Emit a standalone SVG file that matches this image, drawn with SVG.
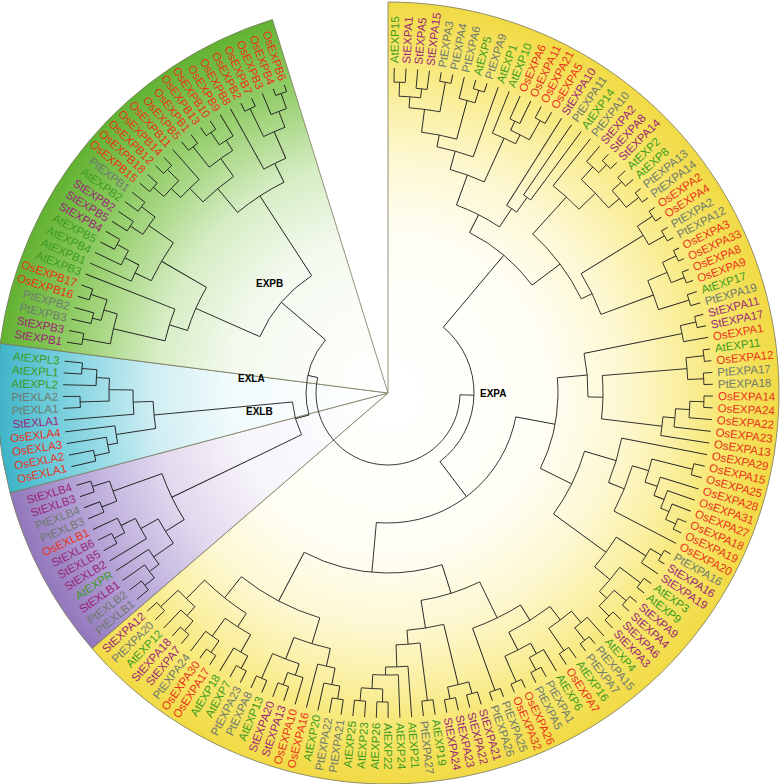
<svg xmlns="http://www.w3.org/2000/svg" width="784" height="784" viewBox="0 0 784 784">
<defs>
<radialGradient id="gY" gradientUnits="userSpaceOnUse" cx="0" cy="0" r="391"><stop offset="0" stop-color="#ffffff"/><stop offset="0.4" stop-color="#fffef5"/><stop offset="0.6" stop-color="#fdf8d2"/><stop offset="0.75" stop-color="#faefa0"/><stop offset="0.87" stop-color="#f6e66c"/><stop offset="1" stop-color="#f1da44"/></radialGradient>
<radialGradient id="gG" gradientUnits="userSpaceOnUse" cx="0" cy="0" r="391"><stop offset="0" stop-color="#ffffff"/><stop offset="0.4" stop-color="#f4faef"/><stop offset="0.6" stop-color="#d6edc4"/><stop offset="0.75" stop-color="#a8d784"/><stop offset="0.87" stop-color="#84c656"/><stop offset="1" stop-color="#62b232"/></radialGradient>
<radialGradient id="gC" gradientUnits="userSpaceOnUse" cx="0" cy="0" r="391"><stop offset="0" stop-color="#ffffff"/><stop offset="0.4" stop-color="#f2fbfc"/><stop offset="0.6" stop-color="#d0eef3"/><stop offset="0.75" stop-color="#98dbe6"/><stop offset="0.87" stop-color="#6ccbd9"/><stop offset="1" stop-color="#3fb3c8"/></radialGradient>
<radialGradient id="gP" gradientUnits="userSpaceOnUse" cx="0" cy="0" r="391"><stop offset="0" stop-color="#ffffff"/><stop offset="0.4" stop-color="#f7f4fa"/><stop offset="0.6" stop-color="#e2d9ee"/><stop offset="0.75" stop-color="#c6b8e0"/><stop offset="0.87" stop-color="#ac98d0"/><stop offset="1" stop-color="#9278bc"/></radialGradient>
</defs>
<style>
.w{stroke:#77775a;stroke-width:0.8}
.t path,.t circle{fill:none;stroke:#222;stroke-width:0.9}
text{font-family:"Liberation Sans",Arial,sans-serif;font-size:11.5px}
.f text{text-anchor:end}
.os{fill:#e8331c}.st{fill:#9a2678}.at{fill:#3d9b1f}.pt{fill:#6f7a6f}
.cl{font-weight:bold;font-size:10px;fill:#000}
</style>
<rect width="784" height="784" fill="#fff"/>
<g transform="translate(388,393)">
<g id="wedges">
<path class="w" fill="url(#gY)" d="M0 0 L0 -391 A391 391 0 1 1 -296 255.5 Z"/>
<path class="w" fill="url(#gP)" d="M0 0 L-296 255.5 A391 391 0 0 1 -378 99.9 Z"/>
<path class="w" fill="url(#gC)" d="M0 0 L-378 99.9 A391 391 0 0 1 -387.8 -49.7 Z"/>
<path class="w" fill="url(#gG)" d="M0 0 L-387.8 -49.7 A391 391 0 0 1 -115.6 -373.5 Z"/>
</g>
<g id="connectors" class="t">
<g id="tree-EXPA" transform="rotate(-88.9)">
<path transform="rotate(0)" d="M311 0H325"/><path transform="rotate(2.08)" d="M311 0H325"/><path transform="rotate(4.16)" d="M306 0H325"/><path transform="rotate(6.24)" d="M306 0H325"/><path transform="rotate(8.32)" d="M316 0H325"/><path transform="rotate(10.4)" d="M316 0H325"/><path transform="rotate(12.48)" d="M303 0H325"/><path transform="rotate(14.56)" d="M316 0H325"/><path transform="rotate(16.64)" d="M316 0H325"/><path transform="rotate(18.72)" d="M251 0H325"/>
<path transform="rotate(20.8)" d="M280 0H325"/><path transform="rotate(22.88)" d="M300 0H325"/><path transform="rotate(24.96)" d="M300 0H325"/><path transform="rotate(27.04)" d="M312 0H325"/><path transform="rotate(29.12)" d="M312 0H325"/><path transform="rotate(31.2)" d="M222 0H325"/><path transform="rotate(33.28)" d="M240 0H325"/><path transform="rotate(35.36)" d="M240 0H325"/><path transform="rotate(37.44)" d="M265 0H325"/><path transform="rotate(39.52)" d="M305 0H325"/>
<path transform="rotate(41.6)" d="M316 0H325"/><path transform="rotate(43.68)" d="M316 0H325"/><path transform="rotate(45.76)" d="M315 0H325"/><path transform="rotate(47.84)" d="M315 0H325"/><path transform="rotate(49.92)" d="M318 0H325"/><path transform="rotate(52)" d="M318 0H325"/><path transform="rotate(54.08)" d="M318 0H325"/><path transform="rotate(56.16)" d="M318 0H325"/><path transform="rotate(58.24)" d="M318 0H325"/><path transform="rotate(60.32)" d="M318 0H325"/>
<path transform="rotate(62.4)" d="M319 0H325"/><path transform="rotate(64.48)" d="M319 0H325"/><path transform="rotate(66.56)" d="M318 0H325"/><path transform="rotate(68.64)" d="M318 0H325"/><path transform="rotate(70.72)" d="M315 0H325"/><path transform="rotate(72.8)" d="M315 0H325"/><path transform="rotate(74.88)" d="M316 0H325"/><path transform="rotate(76.96)" d="M316 0H325"/><path transform="rotate(79.04)" d="M300 0H325"/><path transform="rotate(81.12)" d="M318 0H325"/>
<path transform="rotate(83.2)" d="M318 0H325"/><path transform="rotate(85.28)" d="M316 0H325"/><path transform="rotate(87.36)" d="M316 0H325"/><path transform="rotate(89.44)" d="M316 0H325"/><path transform="rotate(91.52)" d="M316 0H325"/><path transform="rotate(93.6)" d="M302 0H325"/><path transform="rotate(95.68)" d="M288 0H325"/><path transform="rotate(97.76)" d="M276 0H325"/><path transform="rotate(99.84)" d="M238 0H325"/><path transform="rotate(101.92)" d="M314 0H325"/>
<path transform="rotate(104)" d="M314 0H325"/><path transform="rotate(106.08)" d="M285 0H325"/><path transform="rotate(108.16)" d="M296 0H325"/><path transform="rotate(110.24)" d="M305 0H325"/><path transform="rotate(112.32)" d="M316 0H325"/><path transform="rotate(114.4)" d="M316 0H325"/><path transform="rotate(116.48)" d="M255 0H325"/><path transform="rotate(118.56)" d="M318 0H325"/><path transform="rotate(120.64)" d="M318 0H325"/><path transform="rotate(122.72)" d="M305 0H325"/>
<path transform="rotate(124.8)" d="M316 0H325"/><path transform="rotate(126.88)" d="M316 0H325"/><path transform="rotate(128.96)" d="M316 0H325"/><path transform="rotate(131.04)" d="M316 0H325"/><path transform="rotate(133.12)" d="M314 0H325"/><path transform="rotate(135.2)" d="M314 0H325"/><path transform="rotate(137.28)" d="M300 0H325"/><path transform="rotate(139.36)" d="M316 0H325"/><path transform="rotate(141.44)" d="M316 0H325"/><path transform="rotate(143.52)" d="M312 0H325"/>
<path transform="rotate(145.6)" d="M312 0H325"/><path transform="rotate(147.68)" d="M300 0H325"/><path transform="rotate(149.76)" d="M314 0H325"/><path transform="rotate(151.84)" d="M314 0H325"/><path transform="rotate(153.92)" d="M316 0H325"/><path transform="rotate(156)" d="M316 0H325"/><path transform="rotate(158.08)" d="M316 0H325"/><path transform="rotate(160.16)" d="M316 0H325"/><path transform="rotate(162.24)" d="M312 0H325"/><path transform="rotate(164.32)" d="M312 0H325"/>
<path transform="rotate(166.4)" d="M312 0H325"/><path transform="rotate(168.48)" d="M312 0H325"/><path transform="rotate(170.56)" d="M310 0H325"/><path transform="rotate(172.64)" d="M310 0H325"/><path transform="rotate(174.72)" d="M274 0H325"/><path transform="rotate(176.8)" d="M282 0H325"/><path transform="rotate(178.88)" d="M309 0H325"/><path transform="rotate(180.96)" d="M309 0H325"/><path transform="rotate(183.04)" d="M309 0H325"/><path transform="rotate(185.12)" d="M309 0H325"/>
<path transform="rotate(187.2)" d="M310 0H325"/><path transform="rotate(189.28)" d="M310 0H325"/><path transform="rotate(191.36)" d="M297 0H325"/><path transform="rotate(193.44)" d="M280 0H325"/><path transform="rotate(195.52)" d="M297 0H325"/><path transform="rotate(197.6)" d="M310 0H325"/><path transform="rotate(199.68)" d="M310 0H325"/><path transform="rotate(201.76)" d="M312 0H325"/><path transform="rotate(203.84)" d="M312 0H325"/><path transform="rotate(205.92)" d="M312 0H325"/>
<path transform="rotate(208)" d="M312 0H325"/><path transform="rotate(210.08)" d="M298 0H325"/><path transform="rotate(212.16)" d="M314 0H325"/><path transform="rotate(214.24)" d="M314 0H325"/><path transform="rotate(216.32)" d="M300 0H325"/><path transform="rotate(218.4)" d="M313 0H325"/><path transform="rotate(220.48)" d="M313 0H325"/><path transform="rotate(222.56)" d="M300 0H325"/><path transform="rotate(224.64)" d="M312 0H325"/><path transform="rotate(226.72)" d="M312 0H325"/>
<path transform="rotate(1.04)" d="M297 0H311"/><path transform="rotate(5.2)" d="M297 0H306"/><path transform="rotate(3.12)" d="M286 0H297"/><path transform="rotate(9.36)" d="M286 0H316"/><path transform="rotate(6.24)" d="M263 0H286"/><path transform="rotate(15.6)" d="M303 0H316"/><path transform="rotate(14.04)" d="M263 0H303"/><path transform="rotate(10.14)" d="M251 0H263"/><path transform="rotate(14.43)" d="M232 0H251"/>
<path transform="rotate(23.92)" d="M290 0H300"/><path transform="rotate(28.08)" d="M290 0H312"/><path transform="rotate(26)" d="M280 0H290"/><path transform="rotate(23.4)" d="M232 0H280"/><path transform="rotate(18.915)" d="M200 0H232"/><path transform="rotate(34.32)" d="M222 0H240"/><path transform="rotate(32.76)" d="M200 0H222"/><path transform="rotate(25.8375)" d="M180 0H200"/>
<path transform="rotate(42.64)" d="M305 0H316"/><path transform="rotate(41.08)" d="M288 0H305"/><path transform="rotate(46.8)" d="M302 0H315"/><path transform="rotate(50.96)" d="M302 0H318"/><path transform="rotate(48.88)" d="M288 0H302"/><path transform="rotate(44.98)" d="M265 0H288"/><path transform="rotate(41.21)" d="M215 0H265"/>
<path transform="rotate(55.12)" d="M300 0H318"/><path transform="rotate(59.28)" d="M300 0H318"/><path transform="rotate(57.2)" d="M227 0H300"/><path transform="rotate(63.44)" d="M304 0H319"/><path transform="rotate(67.6)" d="M304 0H318"/><path transform="rotate(65.52)" d="M283 0H304"/><path transform="rotate(71.76)" d="M283 0H315"/><path transform="rotate(68.64)" d="M227 0H283"/><path transform="rotate(62.92)" d="M215 0H227"/><path transform="rotate(52.065)" d="M180 0H215"/><path transform="rotate(38.951)" d="M86 0H180"/>
<path transform="rotate(75.92)" d="M300 0H316"/><path transform="rotate(77.48)" d="M200 0H300"/><path transform="rotate(82.16)" d="M300 0H318"/><path transform="rotate(86.32)" d="M300 0H316"/><path transform="rotate(84.24)" d="M215 0H300"/>
<path transform="rotate(90.48)" d="M302 0H316"/><path transform="rotate(92.04)" d="M288 0H302"/><path transform="rotate(93.86)" d="M276 0H288"/><path transform="rotate(95.81)" d="M215 0H276"/><path transform="rotate(90.025)" d="M200 0H215"/><path transform="rotate(83.7525)" d="M170 0H200"/>
<path transform="rotate(102.96)" d="M272 0H314"/><path transform="rotate(113.36)" d="M305 0H316"/><path transform="rotate(111.8)" d="M296 0H305"/><path transform="rotate(109.98)" d="M285 0H296"/><path transform="rotate(108.03)" d="M272 0H285"/><path transform="rotate(105.495)" d="M255 0H272"/><path transform="rotate(110.9875)" d="M238 0H255"/><path transform="rotate(105.414)" d="M205 0H238"/>
<path transform="rotate(119.6)" d="M305 0H318"/><path transform="rotate(121.16)" d="M270 0H305"/><path transform="rotate(125.84)" d="M290 0H316"/><path transform="rotate(130)" d="M300 0H316"/><path transform="rotate(134.16)" d="M300 0H314"/><path transform="rotate(132.08)" d="M290 0H300"/><path transform="rotate(128.96)" d="M270 0H290"/><path transform="rotate(125.06)" d="M205 0H270"/><path transform="rotate(115.237)" d="M170 0H205"/><path transform="rotate(99.495)" d="M130 0H170"/>
<path transform="rotate(140.4)" d="M300 0H316"/><path transform="rotate(138.84)" d="M285 0H300"/><path transform="rotate(144.56)" d="M285 0H312"/><path transform="rotate(141.7)" d="M268 0H285"/><path transform="rotate(150.8)" d="M300 0H314"/><path transform="rotate(149.24)" d="M288 0H300"/><path transform="rotate(154.96)" d="M288 0H316"/><path transform="rotate(152.1)" d="M268 0H288"/><path transform="rotate(146.9)" d="M250 0H268"/><path transform="rotate(159.12)" d="M250 0H316"/><path transform="rotate(153.01)" d="M210 0H250"/>
<path transform="rotate(163.28)" d="M300 0H312"/><path transform="rotate(167.44)" d="M300 0H312"/><path transform="rotate(165.36)" d="M238 0H300"/><path transform="rotate(171.6)" d="M252 0H310"/><path transform="rotate(184.08)" d="M296 0H309"/><path transform="rotate(179.92)" d="M296 0H309"/><path transform="rotate(182)" d="M282 0H296"/><path transform="rotate(179.4)" d="M274 0H282"/><path transform="rotate(177.06)" d="M252 0H274"/><path transform="rotate(174.33)" d="M238 0H252"/><path transform="rotate(169.845)" d="M210 0H238"/><path transform="rotate(161.4275)" d="M180 0H210"/>
<path transform="rotate(188.24)" d="M297 0H310"/><path transform="rotate(189.8)" d="M280 0H297"/><path transform="rotate(191.62)" d="M262 0H280"/><path transform="rotate(198.64)" d="M297 0H310"/><path transform="rotate(197.08)" d="M285 0H297"/><path transform="rotate(202.8)" d="M285 0H312"/><path transform="rotate(199.94)" d="M262 0H285"/><path transform="rotate(195.78)" d="M235 0H262"/>
<path transform="rotate(206.96)" d="M298 0H312"/><path transform="rotate(208.52)" d="M278 0H298"/><path transform="rotate(213.2)" d="M300 0H314"/><path transform="rotate(214.76)" d="M278 0H300"/><path transform="rotate(211.64)" d="M262 0H278"/><path transform="rotate(219.44)" d="M300 0H313"/><path transform="rotate(221)" d="M288 0H300"/><path transform="rotate(225.68)" d="M288 0H312"/><path transform="rotate(223.34)" d="M262 0H288"/><path transform="rotate(217.49)" d="M235 0H262"/><path transform="rotate(206.635)" d="M180 0H235"/><path transform="rotate(184.031)" d="M130 0H180"/><path transform="rotate(141.763)" d="M86 0H130"/><path transform="rotate(90.357)" d="M72 0H86"/>
<circle r="311" pathLength="173.077" stroke-dasharray="1 999" stroke-dashoffset="0"/>
<circle r="306" pathLength="173.077" stroke-dasharray="1 999" stroke-dashoffset="-2"/>
<circle r="297" pathLength="173.077" stroke-dasharray="2 999" stroke-dashoffset="-0.5"/>
<circle r="316" pathLength="173.077" stroke-dasharray="1 999" stroke-dashoffset="-4"/>
<circle r="286" pathLength="173.077" stroke-dasharray="3 999" stroke-dashoffset="-1.5"/>
<circle r="316" pathLength="173.077" stroke-dasharray="1 999" stroke-dashoffset="-7"/>
<circle r="303" pathLength="173.077" stroke-dasharray="1.5 999" stroke-dashoffset="-6"/>
<circle r="263" pathLength="173.077" stroke-dasharray="3.75 999" stroke-dashoffset="-3"/>
<circle r="251" pathLength="173.077" stroke-dasharray="4.125 999" stroke-dashoffset="-4.875"/>
<circle r="300" pathLength="173.077" stroke-dasharray="1 999" stroke-dashoffset="-11"/>
<circle r="312" pathLength="173.077" stroke-dasharray="1 999" stroke-dashoffset="-13"/>
<circle r="290" pathLength="173.077" stroke-dasharray="2 999" stroke-dashoffset="-11.5"/>
<circle r="280" pathLength="173.077" stroke-dasharray="2.5 999" stroke-dashoffset="-10"/>
<circle r="232" pathLength="173.077" stroke-dasharray="4.3125 999" stroke-dashoffset="-6.9375"/>
<circle r="240" pathLength="173.077" stroke-dasharray="1 999" stroke-dashoffset="-16"/>
<circle r="222" pathLength="173.077" stroke-dasharray="1.5 999" stroke-dashoffset="-15"/>
<circle r="200" pathLength="173.077" stroke-dasharray="6.656 999" stroke-dashoffset="-9.094"/>
<circle r="316" pathLength="173.077" stroke-dasharray="1 999" stroke-dashoffset="-20"/>
<circle r="305" pathLength="173.077" stroke-dasharray="1.5 999" stroke-dashoffset="-19"/>
<circle r="315" pathLength="173.077" stroke-dasharray="1 999" stroke-dashoffset="-22"/>
<circle r="318" pathLength="173.077" stroke-dasharray="1 999" stroke-dashoffset="-24"/>
<circle r="302" pathLength="173.077" stroke-dasharray="2 999" stroke-dashoffset="-22.5"/>
<circle r="288" pathLength="173.077" stroke-dasharray="3.75 999" stroke-dashoffset="-19.75"/>
<circle r="265" pathLength="173.077" stroke-dasharray="3.625 999" stroke-dashoffset="-18"/>
<circle r="318" pathLength="173.077" stroke-dasharray="1 999" stroke-dashoffset="-26"/>
<circle r="318" pathLength="173.077" stroke-dasharray="1 999" stroke-dashoffset="-28"/>
<circle r="300" pathLength="173.077" stroke-dasharray="2 999" stroke-dashoffset="-26.5"/>
<circle r="319" pathLength="173.077" stroke-dasharray="1 999" stroke-dashoffset="-30"/>
<circle r="318" pathLength="173.077" stroke-dasharray="1 999" stroke-dashoffset="-32"/>
<circle r="304" pathLength="173.077" stroke-dasharray="2 999" stroke-dashoffset="-30.5"/>
<circle r="315" pathLength="173.077" stroke-dasharray="1 999" stroke-dashoffset="-34"/>
<circle r="283" pathLength="173.077" stroke-dasharray="3 999" stroke-dashoffset="-31.5"/>
<circle r="227" pathLength="173.077" stroke-dasharray="5.5 999" stroke-dashoffset="-27.5"/>
<circle r="215" pathLength="173.077" stroke-dasharray="10.4375 999" stroke-dashoffset="-19.8125"/>
<circle r="180" pathLength="173.077" stroke-dasharray="12.609 999" stroke-dashoffset="-12.422"/>
<circle r="316" pathLength="173.077" stroke-dasharray="1 999" stroke-dashoffset="-36"/>
<circle r="300" pathLength="173.077" stroke-dasharray="1.5 999" stroke-dashoffset="-36.5"/>
<circle r="318" pathLength="173.077" stroke-dasharray="1 999" stroke-dashoffset="-39"/>
<circle r="316" pathLength="173.077" stroke-dasharray="1 999" stroke-dashoffset="-41"/>
<circle r="300" pathLength="173.077" stroke-dasharray="2 999" stroke-dashoffset="-39.5"/>
<circle r="316" pathLength="173.077" stroke-dasharray="1 999" stroke-dashoffset="-43"/>
<circle r="302" pathLength="173.077" stroke-dasharray="1.5 999" stroke-dashoffset="-43.5"/>
<circle r="288" pathLength="173.077" stroke-dasharray="1.75 999" stroke-dashoffset="-44.25"/>
<circle r="276" pathLength="173.077" stroke-dasharray="1.875 999" stroke-dashoffset="-45.125"/>
<circle r="215" pathLength="173.077" stroke-dasharray="5.5625 999" stroke-dashoffset="-40.5"/>
<circle r="200" pathLength="173.077" stroke-dasharray="6.031 999" stroke-dashoffset="-37.25"/>
<circle r="314" pathLength="173.077" stroke-dasharray="1 999" stroke-dashoffset="-49"/>
<circle r="316" pathLength="173.077" stroke-dasharray="1 999" stroke-dashoffset="-54"/>
<circle r="305" pathLength="173.077" stroke-dasharray="1.5 999" stroke-dashoffset="-53"/>
<circle r="296" pathLength="173.077" stroke-dasharray="1.75 999" stroke-dashoffset="-52"/>
<circle r="285" pathLength="173.077" stroke-dasharray="1.875 999" stroke-dashoffset="-51"/>
<circle r="272" pathLength="173.077" stroke-dasharray="2.4375 999" stroke-dashoffset="-49.5"/>
<circle r="255" pathLength="173.077" stroke-dasharray="5.281 999" stroke-dashoffset="-50.719"/>
<circle r="238" pathLength="173.077" stroke-dasharray="5.359 999" stroke-dashoffset="-48"/>
<circle r="318" pathLength="173.077" stroke-dasharray="1 999" stroke-dashoffset="-57"/>
<circle r="305" pathLength="173.077" stroke-dasharray="1.5 999" stroke-dashoffset="-57.5"/>
<circle r="316" pathLength="173.077" stroke-dasharray="1 999" stroke-dashoffset="-60"/>
<circle r="316" pathLength="173.077" stroke-dasharray="1 999" stroke-dashoffset="-62"/>
<circle r="314" pathLength="173.077" stroke-dasharray="1 999" stroke-dashoffset="-64"/>
<circle r="300" pathLength="173.077" stroke-dasharray="2 999" stroke-dashoffset="-62.5"/>
<circle r="290" pathLength="173.077" stroke-dasharray="3 999" stroke-dashoffset="-60.5"/>
<circle r="270" pathLength="173.077" stroke-dasharray="3.75 999" stroke-dashoffset="-58.25"/>
<circle r="205" pathLength="173.077" stroke-dasharray="9.445 999" stroke-dashoffset="-50.68"/>
<circle r="170" pathLength="173.077" stroke-dasharray="15.137 999" stroke-dashoffset="-40.266"/>
<circle r="316" pathLength="173.077" stroke-dasharray="1 999" stroke-dashoffset="-67"/>
<circle r="300" pathLength="173.077" stroke-dasharray="1.5 999" stroke-dashoffset="-66"/>
<circle r="312" pathLength="173.077" stroke-dasharray="1 999" stroke-dashoffset="-69"/>
<circle r="285" pathLength="173.077" stroke-dasharray="2.75 999" stroke-dashoffset="-66.75"/>
<circle r="314" pathLength="173.077" stroke-dasharray="1 999" stroke-dashoffset="-72"/>
<circle r="300" pathLength="173.077" stroke-dasharray="1.5 999" stroke-dashoffset="-71"/>
<circle r="316" pathLength="173.077" stroke-dasharray="1 999" stroke-dashoffset="-74"/>
<circle r="288" pathLength="173.077" stroke-dasharray="2.75 999" stroke-dashoffset="-71.75"/>
<circle r="268" pathLength="173.077" stroke-dasharray="5 999" stroke-dashoffset="-68.125"/>
<circle r="316" pathLength="173.077" stroke-dasharray="1 999" stroke-dashoffset="-76"/>
<circle r="250" pathLength="173.077" stroke-dasharray="5.875 999" stroke-dashoffset="-70.625"/>
<circle r="312" pathLength="173.077" stroke-dasharray="1 999" stroke-dashoffset="-78"/>
<circle r="312" pathLength="173.077" stroke-dasharray="1 999" stroke-dashoffset="-80"/>
<circle r="300" pathLength="173.077" stroke-dasharray="2 999" stroke-dashoffset="-78.5"/>
<circle r="310" pathLength="173.077" stroke-dasharray="1 999" stroke-dashoffset="-82"/>
<circle r="309" pathLength="173.077" stroke-dasharray="1 999" stroke-dashoffset="-88"/>
<circle r="309" pathLength="173.077" stroke-dasharray="1 999" stroke-dashoffset="-86"/>
<circle r="296" pathLength="173.077" stroke-dasharray="2 999" stroke-dashoffset="-86.5"/>
<circle r="282" pathLength="173.077" stroke-dasharray="2.5 999" stroke-dashoffset="-85"/>
<circle r="274" pathLength="173.077" stroke-dasharray="2.25 999" stroke-dashoffset="-84"/>
<circle r="252" pathLength="173.077" stroke-dasharray="2.625 999" stroke-dashoffset="-82.5"/>
<circle r="238" pathLength="173.077" stroke-dasharray="4.3125 999" stroke-dashoffset="-79.5"/>
<circle r="210" pathLength="173.077" stroke-dasharray="8.094 999" stroke-dashoffset="-73.5625"/>
<circle r="310" pathLength="173.077" stroke-dasharray="1 999" stroke-dashoffset="-90"/>
<circle r="297" pathLength="173.077" stroke-dasharray="1.5 999" stroke-dashoffset="-90.5"/>
<circle r="280" pathLength="173.077" stroke-dasharray="1.75 999" stroke-dashoffset="-91.25"/>
<circle r="310" pathLength="173.077" stroke-dasharray="1 999" stroke-dashoffset="-95"/>
<circle r="297" pathLength="173.077" stroke-dasharray="1.5 999" stroke-dashoffset="-94"/>
<circle r="312" pathLength="173.077" stroke-dasharray="1 999" stroke-dashoffset="-97"/>
<circle r="285" pathLength="173.077" stroke-dasharray="2.75 999" stroke-dashoffset="-94.75"/>
<circle r="262" pathLength="173.077" stroke-dasharray="4 999" stroke-dashoffset="-92.125"/>
<circle r="312" pathLength="173.077" stroke-dasharray="1 999" stroke-dashoffset="-99"/>
<circle r="298" pathLength="173.077" stroke-dasharray="1.5 999" stroke-dashoffset="-99.5"/>
<circle r="314" pathLength="173.077" stroke-dasharray="1 999" stroke-dashoffset="-102"/>
<circle r="300" pathLength="173.077" stroke-dasharray="1.5 999" stroke-dashoffset="-102.5"/>
<circle r="278" pathLength="173.077" stroke-dasharray="3 999" stroke-dashoffset="-100.25"/>
<circle r="313" pathLength="173.077" stroke-dasharray="1 999" stroke-dashoffset="-105"/>
<circle r="300" pathLength="173.077" stroke-dasharray="1.5 999" stroke-dashoffset="-105.5"/>
<circle r="312" pathLength="173.077" stroke-dasharray="1 999" stroke-dashoffset="-108"/>
<circle r="288" pathLength="173.077" stroke-dasharray="2.25 999" stroke-dashoffset="-106.25"/>
<circle r="262" pathLength="173.077" stroke-dasharray="5.625 999" stroke-dashoffset="-101.75"/>
<circle r="235" pathLength="173.077" stroke-dasharray="10.4375 999" stroke-dashoffset="-94.125"/>
<circle r="180" pathLength="173.077" stroke-dasharray="21.734 999" stroke-dashoffset="-77.609"/>
<circle r="130" pathLength="173.077" stroke-dasharray="40.643 999" stroke-dashoffset="-47.834"/>
<circle r="86" pathLength="173.077" stroke-dasharray="49.429 999" stroke-dashoffset="-18.727"/>
</g>
<g id="tree-EXLB" transform="rotate(140.6)">
<path transform="rotate(0)" d="M310 0H325"/><path transform="rotate(2.08)" d="M310 0H325"/><path transform="rotate(4.16)" d="M298 0H325"/><path transform="rotate(6.24)" d="M286 0H325"/><path transform="rotate(8.32)" d="M282 0H325"/><path transform="rotate(10.4)" d="M310 0H325"/><path transform="rotate(12.48)" d="M310 0H325"/><path transform="rotate(14.56)" d="M298 0H325"/><path transform="rotate(16.64)" d="M308 0H325"/><path transform="rotate(18.72)" d="M308 0H325"/><path transform="rotate(20.8)" d="M310 0H325"/><path transform="rotate(22.88)" d="M310 0H325"/>
<path transform="rotate(1.04)" d="M298 0H310"/><path transform="rotate(2.6)" d="M286 0H298"/><path transform="rotate(4.42)" d="M262 0H286"/><path transform="rotate(11.44)" d="M298 0H310"/><path transform="rotate(13)" d="M282 0H298"/><path transform="rotate(10.66)" d="M262 0H282"/><path transform="rotate(7.54)" d="M240 0H262"/><path transform="rotate(17.68)" d="M292 0H308"/><path transform="rotate(21.84)" d="M292 0H310"/><path transform="rotate(19.76)" d="M240 0H292"/><path transform="rotate(13.65)" d="M96 0H240"/>
<circle r="310" pathLength="173.077" stroke-dasharray="1 999" stroke-dashoffset="0"/>
<circle r="298" pathLength="173.077" stroke-dasharray="1.5 999" stroke-dashoffset="-0.5"/>
<circle r="286" pathLength="173.077" stroke-dasharray="1.75 999" stroke-dashoffset="-1.25"/>
<circle r="310" pathLength="173.077" stroke-dasharray="1 999" stroke-dashoffset="-5"/>
<circle r="298" pathLength="173.077" stroke-dasharray="1.5 999" stroke-dashoffset="-5.5"/>
<circle r="282" pathLength="173.077" stroke-dasharray="2.25 999" stroke-dashoffset="-4"/>
<circle r="262" pathLength="173.077" stroke-dasharray="3 999" stroke-dashoffset="-2.125"/>
<circle r="308" pathLength="173.077" stroke-dasharray="1 999" stroke-dashoffset="-8"/>
<circle r="310" pathLength="173.077" stroke-dasharray="1 999" stroke-dashoffset="-10"/>
<circle r="292" pathLength="173.077" stroke-dasharray="2 999" stroke-dashoffset="-8.5"/>
<circle r="240" pathLength="173.077" stroke-dasharray="5.875 999" stroke-dashoffset="-3.625"/>
</g>
<g id="tree-EXLA" transform="rotate(166.9)">
<path transform="rotate(0)" d="M300 0H325"/><path transform="rotate(2.08)" d="M300 0H325"/><path transform="rotate(4.16)" d="M285 0H325"/><path transform="rotate(6.24)" d="M275 0H325"/><path transform="rotate(8.32)" d="M255 0H325"/><path transform="rotate(10.4)" d="M308 0H325"/><path transform="rotate(12.48)" d="M308 0H325"/><path transform="rotate(14.56)" d="M292 0H325"/><path transform="rotate(16.64)" d="M307 0H325"/><path transform="rotate(18.72)" d="M307 0H325"/>
<path transform="rotate(1.04)" d="M285 0H300"/><path transform="rotate(2.6)" d="M275 0H285"/><path transform="rotate(4.42)" d="M235 0H275"/><path transform="rotate(11.44)" d="M279 0H308"/><path transform="rotate(17.68)" d="M292 0H307"/><path transform="rotate(16.12)" d="M279 0H292"/><path transform="rotate(13.78)" d="M255 0H279"/><path transform="rotate(11.05)" d="M235 0H255"/><path transform="rotate(7.735)" d="M96 0H235"/>
<circle r="300" pathLength="173.077" stroke-dasharray="1 999" stroke-dashoffset="0"/>
<circle r="285" pathLength="173.077" stroke-dasharray="1.5 999" stroke-dashoffset="-0.5"/>
<circle r="275" pathLength="173.077" stroke-dasharray="1.75 999" stroke-dashoffset="-1.25"/>
<circle r="308" pathLength="173.077" stroke-dasharray="1 999" stroke-dashoffset="-5"/>
<circle r="307" pathLength="173.077" stroke-dasharray="1 999" stroke-dashoffset="-8"/>
<circle r="292" pathLength="173.077" stroke-dasharray="1.5 999" stroke-dashoffset="-7"/>
<circle r="279" pathLength="173.077" stroke-dasharray="2.25 999" stroke-dashoffset="-5.5"/>
<circle r="255" pathLength="173.077" stroke-dasharray="2.625 999" stroke-dashoffset="-4"/>
<circle r="235" pathLength="173.077" stroke-dasharray="3.1875 999" stroke-dashoffset="-2.125"/>
</g>
<g id="tree-EXPB" transform="rotate(189)">
<path transform="rotate(0)" d="M310 0H325"/><path transform="rotate(2.08)" d="M310 0H325"/><path transform="rotate(4.16)" d="M305 0H325"/><path transform="rotate(6.24)" d="M305 0H325"/><path transform="rotate(8.32)" d="M313 0H325"/><path transform="rotate(10.4)" d="M313 0H325"/><path transform="rotate(12.48)" d="M229 0H325"/><path transform="rotate(14.56)" d="M280 0H325"/><path transform="rotate(16.64)" d="M296 0H325"/><path transform="rotate(18.72)" d="M309 0H325"/>
<path transform="rotate(20.8)" d="M309 0H325"/><path transform="rotate(22.88)" d="M307 0H325"/><path transform="rotate(24.96)" d="M307 0H325"/><path transform="rotate(27.04)" d="M309 0H325"/><path transform="rotate(29.12)" d="M309 0H325"/><path transform="rotate(31.2)" d="M312 0H325"/><path transform="rotate(33.28)" d="M312 0H325"/><path transform="rotate(35.36)" d="M314 0H325"/><path transform="rotate(37.44)" d="M314 0H325"/><path transform="rotate(39.52)" d="M285 0H325"/>
<path transform="rotate(41.6)" d="M314 0H325"/><path transform="rotate(43.68)" d="M314 0H325"/><path transform="rotate(45.76)" d="M315 0H325"/><path transform="rotate(47.84)" d="M315 0H325"/><path transform="rotate(49.92)" d="M300 0H325"/><path transform="rotate(52)" d="M256 0H325"/><path transform="rotate(54.08)" d="M316 0H325"/><path transform="rotate(56.16)" d="M316 0H325"/><path transform="rotate(58.24)" d="M302 0H325"/><path transform="rotate(60.32)" d="M318 0H325"/><path transform="rotate(62.4)" d="M318 0H325"/>
<path transform="rotate(1.04)" d="M282 0H310"/><path transform="rotate(5.2)" d="M296 0H305"/><path transform="rotate(9.36)" d="M296 0H313"/><path transform="rotate(7.28)" d="M282 0H296"/><path transform="rotate(4.16)" d="M229 0H282"/><path transform="rotate(8.32)" d="M210 0H229"/><path transform="rotate(19.76)" d="M296 0H309"/><path transform="rotate(18.2)" d="M280 0H296"/><path transform="rotate(16.38)" d="M262 0H280"/><path transform="rotate(23.92)" d="M292 0H307"/><path transform="rotate(28.08)" d="M292 0H309"/><path transform="rotate(26)" d="M262 0H292"/><path transform="rotate(21.19)" d="M210 0H262"/><path transform="rotate(14.755)" d="M140 0H210"/>
<path transform="rotate(32.24)" d="M298 0H312"/><path transform="rotate(36.4)" d="M298 0H314"/><path transform="rotate(34.32)" d="M285 0H298"/><path transform="rotate(36.92)" d="M266 0H285"/><path transform="rotate(42.64)" d="M288 0H314"/><path transform="rotate(46.8)" d="M300 0H315"/><path transform="rotate(48.36)" d="M288 0H300"/><path transform="rotate(45.5)" d="M266 0H288"/><path transform="rotate(41.21)" d="M235 0H266"/><path transform="rotate(55.12)" d="M285 0H316"/><path transform="rotate(61.36)" d="M302 0H318"/><path transform="rotate(59.8)" d="M285 0H302"/><path transform="rotate(57.46)" d="M256 0H285"/><path transform="rotate(54.73)" d="M235 0H256"/><path transform="rotate(47.97)" d="M140 0H235"/><path transform="rotate(31.3625)" d="M82 0H140"/>
<circle r="310" pathLength="173.077" stroke-dasharray="1 999" stroke-dashoffset="0"/>
<circle r="305" pathLength="173.077" stroke-dasharray="1 999" stroke-dashoffset="-2"/>
<circle r="313" pathLength="173.077" stroke-dasharray="1 999" stroke-dashoffset="-4"/>
<circle r="296" pathLength="173.077" stroke-dasharray="2 999" stroke-dashoffset="-2.5"/>
<circle r="282" pathLength="173.077" stroke-dasharray="3 999" stroke-dashoffset="-0.5"/>
<circle r="229" pathLength="173.077" stroke-dasharray="4 999" stroke-dashoffset="-2"/>
<circle r="309" pathLength="173.077" stroke-dasharray="1 999" stroke-dashoffset="-9"/>
<circle r="296" pathLength="173.077" stroke-dasharray="1.5 999" stroke-dashoffset="-8"/>
<circle r="280" pathLength="173.077" stroke-dasharray="1.75 999" stroke-dashoffset="-7"/>
<circle r="307" pathLength="173.077" stroke-dasharray="1 999" stroke-dashoffset="-11"/>
<circle r="309" pathLength="173.077" stroke-dasharray="1 999" stroke-dashoffset="-13"/>
<circle r="292" pathLength="173.077" stroke-dasharray="2 999" stroke-dashoffset="-11.5"/>
<circle r="262" pathLength="173.077" stroke-dasharray="4.625 999" stroke-dashoffset="-7.875"/>
<circle r="210" pathLength="173.077" stroke-dasharray="6.1875 999" stroke-dashoffset="-4"/>
<circle r="312" pathLength="173.077" stroke-dasharray="1 999" stroke-dashoffset="-15"/>
<circle r="314" pathLength="173.077" stroke-dasharray="1 999" stroke-dashoffset="-17"/>
<circle r="298" pathLength="173.077" stroke-dasharray="2 999" stroke-dashoffset="-15.5"/>
<circle r="285" pathLength="173.077" stroke-dasharray="2.5 999" stroke-dashoffset="-16.5"/>
<circle r="314" pathLength="173.077" stroke-dasharray="1 999" stroke-dashoffset="-20"/>
<circle r="315" pathLength="173.077" stroke-dasharray="1 999" stroke-dashoffset="-22"/>
<circle r="300" pathLength="173.077" stroke-dasharray="1.5 999" stroke-dashoffset="-22.5"/>
<circle r="288" pathLength="173.077" stroke-dasharray="2.75 999" stroke-dashoffset="-20.5"/>
<circle r="266" pathLength="173.077" stroke-dasharray="4.125 999" stroke-dashoffset="-17.75"/>
<circle r="316" pathLength="173.077" stroke-dasharray="1 999" stroke-dashoffset="-26"/>
<circle r="318" pathLength="173.077" stroke-dasharray="1 999" stroke-dashoffset="-29"/>
<circle r="302" pathLength="173.077" stroke-dasharray="1.5 999" stroke-dashoffset="-28"/>
<circle r="285" pathLength="173.077" stroke-dasharray="2.25 999" stroke-dashoffset="-26.5"/>
<circle r="256" pathLength="173.077" stroke-dasharray="2.625 999" stroke-dashoffset="-25"/>
<circle r="235" pathLength="173.077" stroke-dasharray="6.5 999" stroke-dashoffset="-19.8125"/>
<circle r="140" pathLength="173.077" stroke-dasharray="15.969 999" stroke-dashoffset="-7.094"/>
</g>
<g id="tree-root">
<path transform="rotate(164.4425)" d="M82 0H96"/>
<path transform="rotate(192.4025)" d="M72 0H82"/>
<circle r="96" pathLength="360" stroke-dasharray="20.385 999" stroke-dashoffset="-154.25"/>
<circle r="82" pathLength="360" stroke-dasharray="55.92 999" stroke-dashoffset="-164.4425"/>
<circle r="72" pathLength="360" stroke-dasharray="190.946 999" stroke-dashoffset="-1.457"/>
</g>
</g>
<g id="labels">
<g transform="rotate(-88.9)">
<text transform="rotate(0)" x="330" y="4" class="at">AtEXP15</text>
<text transform="rotate(2.08)" x="330" y="4" class="st">StEXPA1</text>
<text transform="rotate(4.16)" x="330" y="4" class="st">StEXPA5</text>
<text transform="rotate(6.24)" x="330" y="4" class="st">StEXPA15</text>
<text transform="rotate(8.32)" x="330" y="4" class="pt">PtEXPA3</text>
<text transform="rotate(10.4)" x="330" y="4" class="pt">PtEXPA4</text>
<text transform="rotate(12.48)" x="330" y="4" class="pt">PtEXPA6</text>
<text transform="rotate(14.56)" x="330" y="4" class="at">AtEXP5</text>
<text transform="rotate(16.64)" x="330" y="4" class="pt">PtEXPA9</text>
<text transform="rotate(18.72)" x="330" y="4" class="at">AtEXP1</text>
<text transform="rotate(20.8)" x="330" y="4" class="at">AtEXP10</text>
<text transform="rotate(22.88)" x="330" y="4" class="os">OsEXPA6</text>
<text transform="rotate(24.96)" x="330" y="4" class="os">OsEXPA11</text>
<text transform="rotate(27.04)" x="330" y="4" class="os">OsEXPA21</text>
<text transform="rotate(29.12)" x="330" y="4" class="os">OsEXPA5</text>
<text transform="rotate(31.2)" x="330" y="4" class="st">StEXPA10</text>
<text transform="rotate(33.28)" x="330" y="4" class="pt">PtEXPA11</text>
<text transform="rotate(35.36)" x="330" y="4" class="at">AtEXP14</text>
<text transform="rotate(37.44)" x="330" y="4" class="pt">PtEXPA10</text>
<text transform="rotate(39.52)" x="330" y="4" class="st">StEXPA2</text>
<text transform="rotate(41.6)" x="330" y="4" class="st">StEXPA8</text>
<text transform="rotate(43.68)" x="330" y="4" class="st">StEXPA14</text>
<text transform="rotate(45.76)" x="330" y="4" class="at">AtEXP2</text>
<text transform="rotate(47.84)" x="330" y="4" class="at">AtEXP8</text>
<text transform="rotate(49.92)" x="330" y="4" class="pt">PtEXPA13</text>
<text transform="rotate(52)" x="330" y="4" class="pt">PtEXPA14</text>
<text transform="rotate(54.08)" x="330" y="4" class="os">OsEXPA2</text>
<text transform="rotate(56.16)" x="330" y="4" class="os">OsEXPA4</text>
<text transform="rotate(58.24)" x="330" y="4" class="pt">PtEXPA2</text>
<text transform="rotate(60.32)" x="330" y="4" class="pt">PtEXPA12</text>
<text transform="rotate(62.4)" x="330" y="4" class="os">OsEXPA3</text>
<text transform="rotate(64.48)" x="330" y="4" class="os">OsEXPA33</text>
<text transform="rotate(66.56)" x="330" y="4" class="os">OsEXPA8</text>
<text transform="rotate(68.64)" x="330" y="4" class="os">OsEXPA9</text>
<text transform="rotate(70.72)" x="330" y="4" class="at">AtEXP17</text>
<text transform="rotate(72.8)" x="330" y="4" class="pt">PtEXPA19</text>
<text transform="rotate(74.88)" x="330" y="4" class="st">StEXPA11</text>
<text transform="rotate(76.96)" x="330" y="4" class="st">StEXPA17</text>
<text transform="rotate(79.04)" x="330" y="4" class="os">OsEXPA1</text>
<text transform="rotate(81.12)" x="330" y="4" class="at">AtEXP11</text>
<text transform="rotate(83.2)" x="330" y="4" class="os">OsEXPA12</text>
<text transform="rotate(85.28)" x="330" y="4" class="pt">PtEXPA17</text>
<text transform="rotate(87.36)" x="330" y="4" class="pt">PtEXPA18</text>
<text transform="rotate(89.44)" x="330" y="4" class="os">OsEXPA14</text>
<text transform="rotate(91.52)" x="330" y="4" class="os">OsEXPA24</text>
<text transform="rotate(93.6)" x="330" y="4" class="os">OsEXPA22</text>
<text transform="rotate(95.68)" x="330" y="4" class="os">OsEXPA23</text>
<text transform="rotate(97.76)" x="330" y="4" class="os">OsEXPA13</text>
<text transform="rotate(99.84)" x="330" y="4" class="os">OsEXPA29</text>
<text transform="rotate(101.92)" x="330" y="4" class="os">OsEXPA15</text>
<text transform="rotate(104)" x="330" y="4" class="os">OsEXPA25</text>
<text transform="rotate(106.08)" x="330" y="4" class="os">OsEXPA28</text>
<text transform="rotate(108.16)" x="330" y="4" class="os">OsEXPA31</text>
<text transform="rotate(110.24)" x="330" y="4" class="os">OsEXPA27</text>
<text transform="rotate(112.32)" x="330" y="4" class="os">OsEXPA18</text>
<text transform="rotate(114.4)" x="330" y="4" class="os">OsEXPA19</text>
<text transform="rotate(116.48)" x="330" y="4" class="os">OsEXPA20</text>
<text transform="rotate(118.56)" x="330" y="4" class="pt">PtEXPA16</text>
<text transform="rotate(120.64)" x="330" y="4" class="st">StEXPA16</text>
<text transform="rotate(122.72)" x="330" y="4" class="st">StEXPA19</text>
<text transform="rotate(124.8)" x="330" y="4" class="at">AtEXP3</text>
<text transform="rotate(126.88)" x="330" y="4" class="at">AtEXP9</text>
<text transform="rotate(128.96)" x="330" y="4" class="st">StEXPA9</text>
<text transform="rotate(131.04)" x="330" y="4" class="st">StEXPA4</text>
<text transform="rotate(133.12)" x="330" y="4" class="st">StEXPA6</text>
<text transform="rotate(135.2)" x="330" y="4" class="st">StEXPA3</text>
<text transform="rotate(137.28)" x="330" y="4" class="at">AtEXP4</text>
<text transform="rotate(139.36)" x="330" y="4" class="pt">PtEXPA15</text>
<text transform="rotate(141.44)" x="330" y="4" class="pt">PtEXPA7</text>
<text transform="rotate(143.52)" x="330" y="4" class="at">AtEXP16</text>
<text transform="rotate(145.6)" x="330" y="4" class="os">OsEXPA7</text>
<text transform="rotate(147.68)" x="330" y="4" class="at">AtEXP6</text>
<text transform="rotate(149.76)" x="330" y="4" class="pt">PtEXPA1</text>
<text transform="rotate(151.84)" x="330" y="4" class="pt">PtEXPA5</text>
<text transform="rotate(153.92)" x="330" y="4" class="os">OsEXPA26</text>
<text transform="rotate(156)" x="330" y="4" class="os">OsEXPA32</text>
<text transform="rotate(158.08)" x="330" y="4" class="pt">PtEXPA25</text>
<text transform="rotate(160.16)" x="330" y="4" class="pt">PtEXPA26</text>
<text transform="rotate(162.24)" x="330" y="4" class="st">StEXPA21</text>
<text transform="rotate(164.32)" x="330" y="4" class="st">StEXPA22</text>
<text transform="rotate(166.4)" x="330" y="4" class="st">StEXPA23</text>
<text transform="rotate(168.48)" x="330" y="4" class="st">StEXPA24</text>
<text transform="rotate(170.56)" x="330" y="4" class="at">AtEXP19</text>
<text transform="rotate(172.64)" x="330" y="4" class="pt">PtEXPA27</text>
<text transform="rotate(174.72)" x="330" y="4" class="at">AtEXP21</text>
<text transform="rotate(176.8)" x="330" y="4" class="at">AtEXP24</text>
<text transform="rotate(178.88)" x="330" y="4" class="at">AtEXP22</text>
<g class="f">
<text transform="rotate(0.96)" x="-330" y="4" class="at">AtEXP26</text>
<text transform="rotate(3.04)" x="-330" y="4" class="at">AtEXP23</text>
<text transform="rotate(5.12)" x="-330" y="4" class="at">AtEXP25</text>
<text transform="rotate(7.2)" x="-330" y="4" class="pt">PtEXPA21</text>
<text transform="rotate(9.28)" x="-330" y="4" class="pt">PtEXPA22</text>
<text transform="rotate(11.36)" x="-330" y="4" class="at">AtEXP20</text>
<text transform="rotate(13.44)" x="-330" y="4" class="os">OsEXPA16</text>
<text transform="rotate(15.52)" x="-330" y="4" class="os">OsEXPA10</text>
<text transform="rotate(17.6)" x="-330" y="4" class="st">StEXPA13</text>
<text transform="rotate(19.68)" x="-330" y="4" class="st">StEXPA20</text>
<text transform="rotate(21.76)" x="-330" y="4" class="at">AtEXP13</text>
<text transform="rotate(23.84)" x="-330" y="4" class="pt">PtEXPA8</text>
<text transform="rotate(25.92)" x="-330" y="4" class="pt">PtEXPA23</text>
<text transform="rotate(28)" x="-330" y="4" class="at">AtEXP7</text>
<text transform="rotate(30.08)" x="-330" y="4" class="at">AtEXP18</text>
<text transform="rotate(32.16)" x="-330" y="4" class="os">OsEXPA17</text>
<text transform="rotate(34.24)" x="-330" y="4" class="os">OsEXPA30</text>
<text transform="rotate(36.32)" x="-330" y="4" class="pt">PtEXPA24</text>
<text transform="rotate(38.4)" x="-330" y="4" class="st">StEXPA7</text>
<text transform="rotate(40.48)" x="-330" y="4" class="st">StEXPA18</text>
<text transform="rotate(42.56)" x="-330" y="4" class="at">AtEXP12</text>
<text transform="rotate(44.64)" x="-330" y="4" class="pt">PtEXPA20</text>
<text transform="rotate(46.72)" x="-330" y="4" class="st">StEXPA12</text>
</g>
</g>
<g class="f" transform="rotate(-39.4)">
<text transform="rotate(0)" x="-330" y="4" class="pt">PtEXLB1</text>
<text transform="rotate(2.08)" x="-330" y="4" class="pt">PtEXLB2</text>
<text transform="rotate(4.16)" x="-330" y="4" class="st">StEXLB1</text>
<text transform="rotate(6.24)" x="-330" y="4" class="at">AtEXPR</text>
<text transform="rotate(8.32)" x="-330" y="4" class="st">StEXLB2</text>
<text transform="rotate(10.4)" x="-330" y="4" class="st">StEXLB5</text>
<text transform="rotate(12.48)" x="-330" y="4" class="st">StEXLB6</text>
<text transform="rotate(14.56)" x="-330" y="4" class="os">OsEXLB1</text>
<text transform="rotate(16.64)" x="-330" y="4" class="pt">PtEXLB3</text>
<text transform="rotate(18.72)" x="-330" y="4" class="pt">PtEXLB4</text>
<text transform="rotate(20.8)" x="-330" y="4" class="st">StEXLB3</text>
<text transform="rotate(22.88)" x="-330" y="4" class="st">StEXLB4</text>
</g>
<g class="f" transform="rotate(-13.1)">
<text transform="rotate(0)" x="-330" y="4" class="os">OsEXLA1</text>
<text transform="rotate(2.08)" x="-330" y="4" class="os">OsEXLA2</text>
<text transform="rotate(4.16)" x="-330" y="4" class="os">OsEXLA3</text>
<text transform="rotate(6.24)" x="-330" y="4" class="os">OsEXLA4</text>
<text transform="rotate(8.32)" x="-330" y="4" class="st">StEXLA1</text>
<text transform="rotate(10.4)" x="-330" y="4" class="pt">PtEXLA1</text>
<text transform="rotate(12.48)" x="-330" y="4" class="pt">PtEXLA2</text>
<text transform="rotate(14.56)" x="-330" y="4" class="at">AtEXPL2</text>
<text transform="rotate(16.64)" x="-330" y="4" class="at">AtEXPL1</text>
<text transform="rotate(18.72)" x="-330" y="4" class="at">AtEXPL3</text>
</g>
<g class="f" transform="rotate(9)">
<text transform="rotate(0)" x="-330" y="4" class="st">StEXPB1</text>
<text transform="rotate(2.08)" x="-330" y="4" class="st">StEXPB3</text>
<text transform="rotate(4.16)" x="-330" y="4" class="pt">PtEXPB3</text>
<text transform="rotate(6.24)" x="-330" y="4" class="pt">PtEXPB2</text>
<text transform="rotate(8.32)" x="-330" y="4" class="os">OsEXPB16</text>
<text transform="rotate(10.4)" x="-330" y="4" class="os">OsEXPB17</text>
<text transform="rotate(12.48)" x="-330" y="4" class="at">AtEXPB3</text>
<text transform="rotate(14.56)" x="-330" y="4" class="at">AtEXPB1</text>
<text transform="rotate(16.64)" x="-330" y="4" class="at">AtEXPB4</text>
<text transform="rotate(18.72)" x="-330" y="4" class="at">AtEXPB5</text>
<text transform="rotate(20.8)" x="-330" y="4" class="st">StEXPB4</text>
<text transform="rotate(22.88)" x="-330" y="4" class="st">StEXPB5</text>
<text transform="rotate(24.96)" x="-330" y="4" class="st">StEXPB2</text>
<text transform="rotate(27.04)" x="-330" y="4" class="at">AtEXPB2</text>
<text transform="rotate(29.12)" x="-330" y="4" class="pt">PtEXPB1</text>
<text transform="rotate(31.2)" x="-330" y="4" class="os">OsEXPB15</text>
<text transform="rotate(33.28)" x="-330" y="4" class="os">OsEXPB18</text>
<text transform="rotate(35.36)" x="-330" y="4" class="os">OsEXPB12</text>
<text transform="rotate(37.44)" x="-330" y="4" class="os">OsEXPB14</text>
<text transform="rotate(39.52)" x="-330" y="4" class="os">OsEXPB11</text>
<text transform="rotate(41.6)" x="-330" y="4" class="os">OsEXPB5</text>
<text transform="rotate(43.68)" x="-330" y="4" class="os">OsEXPB1</text>
<text transform="rotate(45.76)" x="-330" y="4" class="os">OsEXPB13</text>
<text transform="rotate(47.84)" x="-330" y="4" class="os">OsEXPB10</text>
<text transform="rotate(49.92)" x="-330" y="4" class="os">OsEXPB9</text>
<text transform="rotate(52)" x="-330" y="4" class="os">OsEXPB8</text>
<text transform="rotate(54.08)" x="-330" y="4" class="os">OsEXPB2</text>
<text transform="rotate(56.16)" x="-330" y="4" class="os">OsEXPB7</text>
<text transform="rotate(58.24)" x="-330" y="4" class="os">OsEXPB3</text>
<text transform="rotate(60.32)" x="-330" y="4" class="os">OsEXPB4</text>
<text transform="rotate(62.4)" x="-330" y="4" class="os">OsEXPB6</text>
</g>
</g>
</g>
<g id="clade-labels">
<text class="cl" x="480" y="397">EXPA</text>
<text class="cl" x="256" y="287">EXPB</text>
<text class="cl" x="238" y="382">EXLA</text>
<text class="cl" x="246" y="415">EXLB</text>
</g>
</svg>
